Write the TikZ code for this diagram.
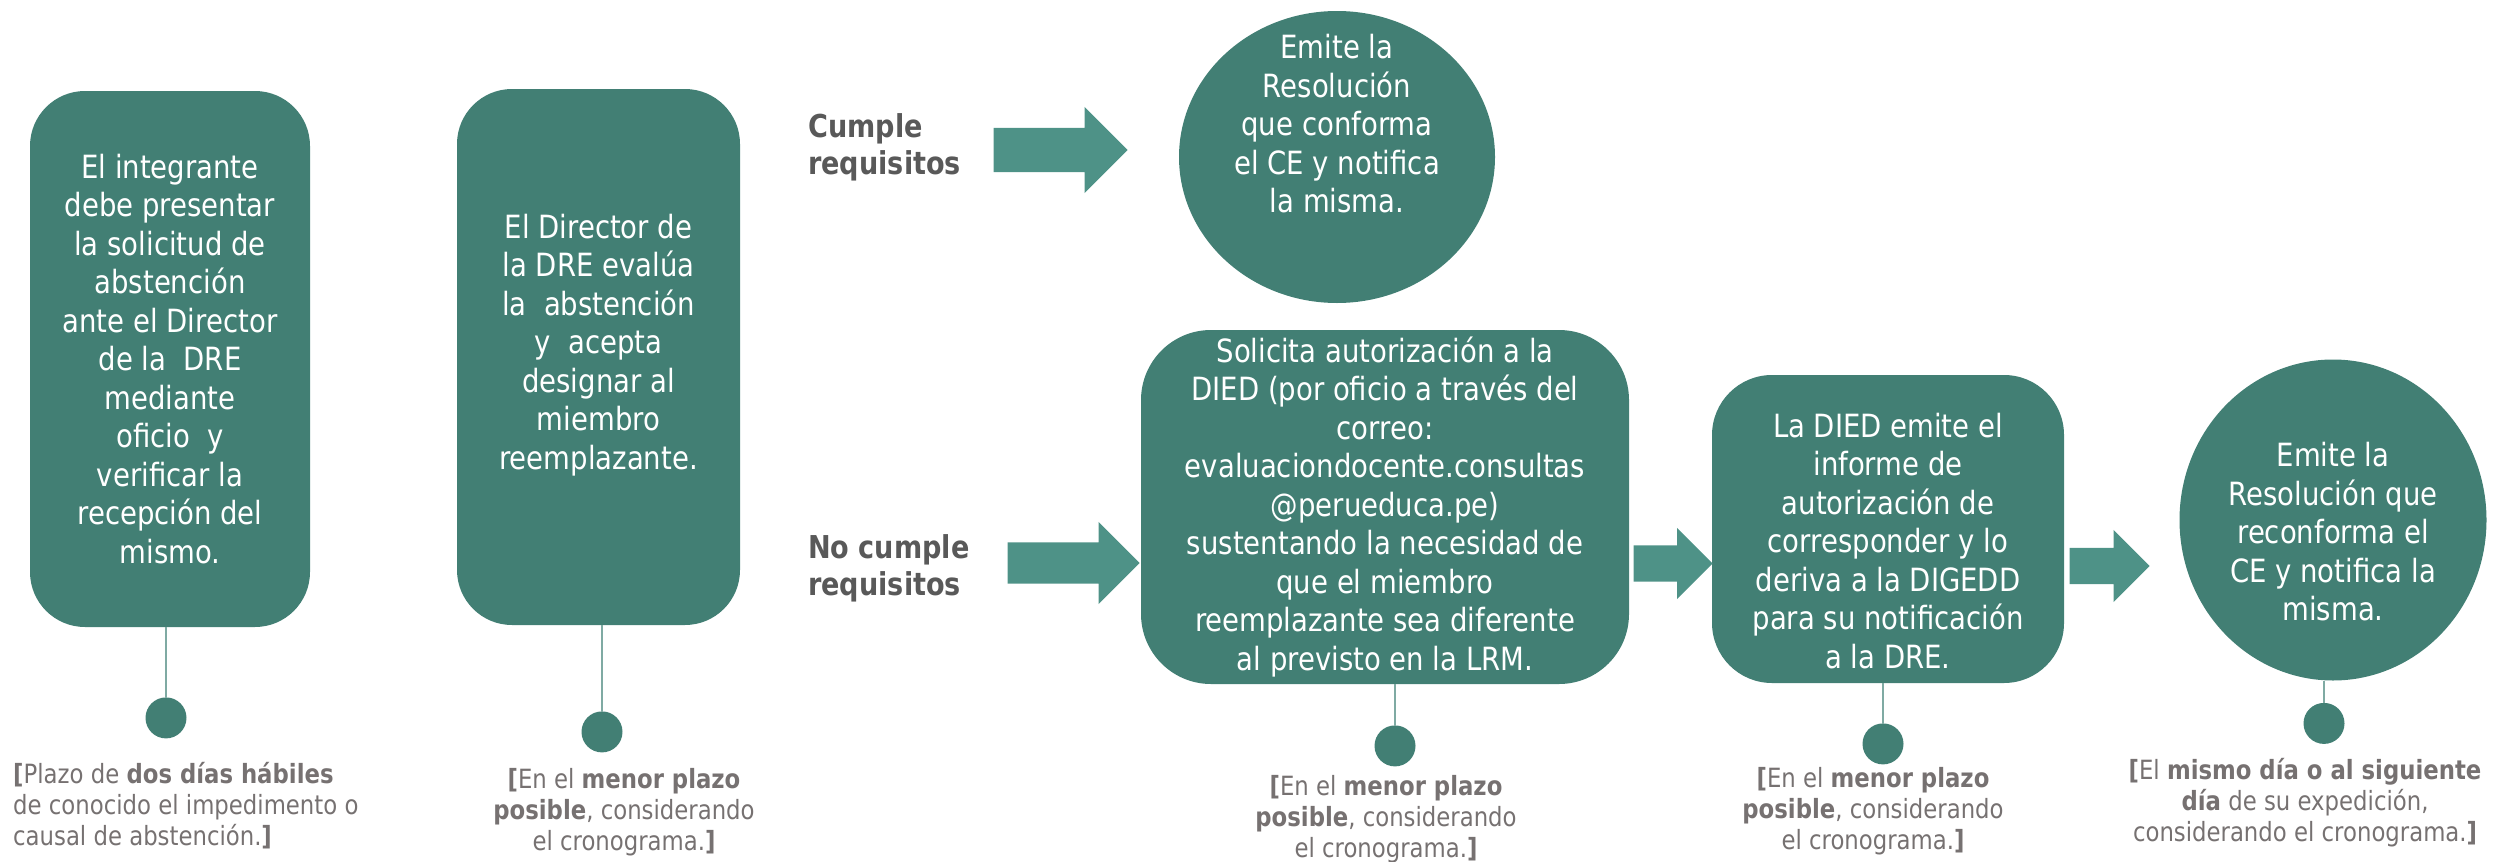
\documentclass[tikz,border=0pt]{standalone}
\usepackage{fontspec}
\setmainfont{DejaVu Sans}[FakeStretch=0.86]
\usetikzlibrary{positioning,shapes.geometric,shapes.arrows}

\definecolor{tealbox}{HTML}{427F74}
\definecolor{tealarrow}{HTML}{4E9287}
\definecolor{tealstem}{HTML}{7FAAA3}
\definecolor{notegray}{HTML}{767171}
\definecolor{headgray}{HTML}{595959}

\tikzset{
  stagetext/.style={text=white,align=center,inner sep=0pt,
    font=\fontsize{32pt}{38.5pt}\selectfont},
  stage/.style={stagetext,fill=tealbox},
  blockarrow/.style={single arrow,fill=tealarrow,inner xsep=0pt,
    single arrow tip angle=90,anchor=tip},
  dot/.style={circle,fill=tealbox,minimum size=41pt,inner sep=0pt},
  stem/.style={draw=tealstem,line width=2pt},
  note/.style={text=notegray,align=center,inner sep=0pt,
    font=\fontsize{26.5pt}{31pt}\selectfont},
  decision/.style={text=headgray,align=left,inner sep=0pt,
    font=\bfseries\fontsize{31.5pt}{37pt}\selectfont}
}

\begin{document}
\begin{tikzpicture}[x=1pt,y=-1pt]
	\useasboundingbox (0,0) rectangle (2498,862);

	% first two steps
	\node[stage,rounded corners=55pt,minimum width=280pt,minimum height=536pt]
	(integrante) at (170,359) {El integrante\\debe presentar\\la solicitud de\\abstención\\ante el Director\\de la\ \ DRE\\mediante\\oficio\ \ y\\verificar la\\recepción del\\mismo.};

	\node[stage,rounded corners=55pt,minimum width=283pt,minimum height=536pt,
	label={[stagetext,yshift=12pt]center:{El Director de\\la DRE evalúa\\la\ \ abstención\\y\ \ acepta\\designar al\\miembro\\reemplazante.}}]
	(director) at (598.5,357) {};

	% cumple requisitos
	\node[decision,anchor=north west] (cumple) at (808,113) {Cumple\\requisitos};
	\node[blockarrow,minimum height=134pt,inner ysep=22pt,single arrow head extend=21pt]
	(arr1) at (1128,150) {};
	\node[stage,ellipse,minimum width=316pt,minimum height=292pt,
	label={[stagetext,yshift=33pt]center:{Emite la\\Resolución\\que conforma\\el CE y notifica\\la misma.}}]
	(conforma) at (1337,157) {};

	% no cumple requisitos
	\node[decision,anchor=north west] (nocumple) at (808,534) {No cumple\\requisitos};
	\node[stage,rounded corners=70pt,minimum width=488pt,minimum height=354pt]
	(autorizacion) at (1385,507) {Solicita autorización a la\\DIED (por oficio a través del\\correo:\\evaluaciondocente.consultas\\@perueduca.pe)\\sustentando la necesidad de\\que el miembro\\reemplazante sea diferente\\al previsto en la LRM.};
	\node[blockarrow,minimum height=132pt,inner ysep=20.5pt,single arrow head extend=20.5pt]
	(arr2) at (1140,563) {};
	\node[stage,rounded corners=60pt,minimum width=352pt,minimum height=308pt,
	label={[stagetext,yshift=-12pt]center:{La DIED emite el\\informe de\\autorización de\\corresponder y lo\\deriva a la DIGEDD\\para su notificación\\a la DRE.}}]
	(informe) at (1888,529) {};
	\node[blockarrow,minimum height=79pt,inner ysep=18pt,single arrow head extend=17.5pt]
	(arr3) at (1713,563.5) {};
	\node[stage,ellipse,minimum width=307pt,minimum height=321pt,
	label={[stagetext,yshift=-12pt]center:{Emite la\\Resolución que\\reconforma el\\CE y notifica la\\misma.}}]
	(reconforma) at (2333,520) {};
	\node[blockarrow,minimum height=80pt,inner ysep=18pt,single arrow head extend=18pt]
	(arr4) at (2150,566) {};

	% plazos
	\node[dot,below=70pt of integrante,xshift=-4pt] (dot1) {};
	\node[dot,below=86pt of director,xshift=3.5pt] (dot2) {};
	\node[dot,below=41pt of autorizacion,xshift=10pt] (dot3) {};
	\node[dot,below=40pt of informe,xshift=-5pt] (dot4) {};
	\node[dot,below=22pt of reconforma,xshift=-9pt] (dot5) {};

	\draw[stem] (dot1.north) -- (dot1.north |- integrante.south);
	\draw[stem] (dot2.north) -- (dot2.north |- director.south);
	\draw[stem] (dot3.north) -- (dot3.north |- autorizacion.south);
	\draw[stem] (dot4.north) -- (dot4.north |- informe.south);
	\draw[stem] (dot5.north) -- (dot5.north |- reconforma.south);

	\node[note,align=left,anchor=north west] (note1) at (13,762)
	{\textbf{[}Plazo de \textbf{dos días hábiles}\\de conocido el impedimento o\\causal de abstención.\textbf{]}};
	\node[note,below=15.5pt of dot2,xshift=22pt] (note2)
	{\textbf{[}En el \textbf{menor plazo}\\\textbf{posible}, considerando\\el cronograma.\textbf{]}};
	\node[note,below=8.5pt of dot3,xshift=-9pt] (note3)
	{\textbf{[}En el \textbf{menor plazo}\\\textbf{posible}, considerando\\el cronograma.\textbf{]}};
	\node[note,below=2.5pt of dot4,xshift=-10pt] (note4)
	{\textbf{[}En el \textbf{menor plazo}\\\textbf{posible}, considerando\\el cronograma.\textbf{]}};
	\node[note,below=13.5pt of dot5,xshift=-19pt] (note5)
	{\textbf{[}El \textbf{mismo día o al siguiente}\\\textbf{día} de su expedición,\\considerando el cronograma.\textbf{]}};

\end{tikzpicture}
\end{document}
